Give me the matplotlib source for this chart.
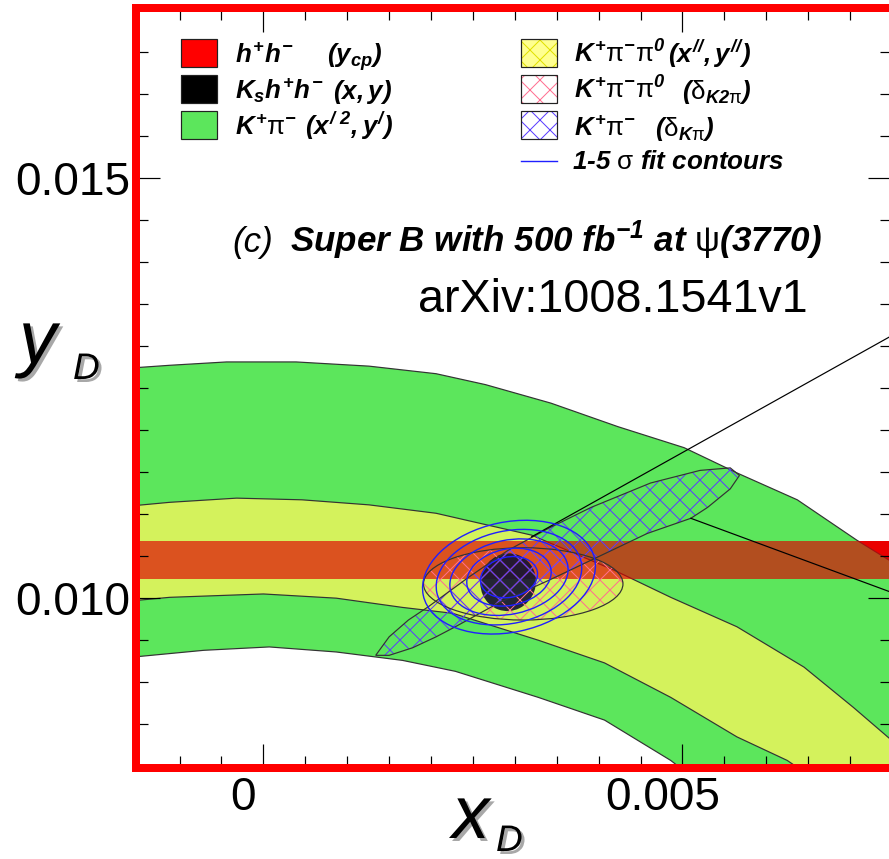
import numpy as np
import matplotlib
matplotlib.use('Agg')
import matplotlib.pyplot as plt
from matplotlib.patches import Polygon, Ellipse, Rectangle
from matplotlib.lines import Line2D
from matplotlib.transforms import ScaledTranslation
import matplotlib.patheffects as pe

DPI = 60
W, H = 889, 859


def pt(px):
    # pixel size -> points at this dpi
    return px * 72.0 / DPI


def fx(px):
    return px / W


def fy(py):
    return 1 - py / H


plt.rcParams['font.family'] = ['Liberation Sans', 'DejaVu Sans']
plt.rcParams['mathtext.fontset'] = 'custom'
plt.rcParams['mathtext.it'] = 'Liberation Sans:italic:bold'
plt.rcParams['mathtext.rm'] = 'Liberation Sans:italic:bold'
plt.rcParams['mathtext.bf'] = 'Liberation Sans:italic:bold'
plt.rcParams['mathtext.sf'] = 'Liberation Sans'
plt.rcParams['mathtext.cal'] = 'Liberation Sans:italic'
plt.rcParams['hatch.linewidth'] = pt(1.0)

##### data (x_D, y_D) #####
# h+h- (y_cp) band
ycp = 0.01045
ycp_err = 0.000225

# K+pi- (x'^2, y') band
green_up_x = [-0.00155, -0.00112, -0.00044, 0.00039, 0.00126, 0.00206, 0.00265, 0.00343,
              0.00423, 0.00502, 0.00565, 0.00637, 0.00708, 0.00760]
green_up_y = [0.01274, 0.01277, 0.01281, 0.01281, 0.01276, 0.01267, 0.01254, 0.01232,
              0.01204, 0.01179, 0.01149, 0.01117, 0.01069, 0.01037]
green_lo_x = [-0.00155, -0.00071, 0.00007, 0.00087, 0.00166, 0.00229, 0.00328, 0.00407,
              0.00486, 0.00508]
green_lo_y = [0.00930, 0.00938, 0.00942, 0.00936, 0.00926, 0.00913, 0.00882, 0.00855,
              0.00807, 0.00790]

# K+pi-pi0 (x'', y'') band
yellow_up_x = [-0.00155, -0.00112, -0.00032, 0.00046, 0.00126, 0.00206, 0.00241, 0.00320,
               0.00419, 0.00486, 0.00565, 0.00645, 0.00704, 0.00760]
yellow_up_y = [0.01110, 0.01114, 0.01119, 0.01117, 0.01111, 0.01101, 0.01093, 0.01075,
               0.01033, 0.01001, 0.00966, 0.00918, 0.00870, 0.00822]
yellow_lo_x = [-0.00155, -0.00112, 0.0, 0.00087, 0.00166, 0.00226, 0.00328, 0.00407,
               0.00486, 0.00565, 0.00625, 0.00650]
yellow_lo_y = [0.00997, 0.01001, 0.01005, 0.01000, 0.00989, 0.00982, 0.00950, 0.00923,
               0.00882, 0.00835, 0.00807, 0.00790]
corner_x, corner_y = 0.00760, 0.00790

# K+pi- (delta_Kpi) region
dkpi_x = [0.00134, 0.00150, 0.00173, 0.00197, 0.00245, 0.00292, 0.00340, 0.00391, 0.00462,
          0.00521, 0.00557, 0.00568, 0.00557, 0.00530, 0.00510, 0.00458, 0.00399, 0.00340,
          0.00280, 0.00229, 0.00206, 0.00178, 0.00150]
dkpi_y = [0.00932, 0.00954, 0.00974, 0.00990, 0.01025, 0.01057, 0.01083, 0.01108, 0.01137,
          0.01152, 0.01155, 0.01146, 0.01130, 0.01108, 0.01095, 0.01077, 0.01049, 0.01021,
          0.00994, 0.00966, 0.00954, 0.00941, 0.00932]
line_a_x = [0.00320, 0.00760]
line_a_y = [0.01073, 0.01318]
line_b_x = [0.00510, 0.00760]
line_b_y = [0.01095, 0.01003]

# K+pi-pi0 (delta_K2pi) region
dk2pi_c = (0.00310, 0.01017)
dk2pi_w, dk2pi_h = 0.00238, 0.00086

# Ks h+h- (x, y)
kshh_c = (0.00292, 0.01019)
kshh_w, kshh_h = 0.00066, 0.00069

# 1-5 sigma fit contours
fit_c = (0.00293, 0.01025)
fit_w = [0.00069, 0.00102, 0.00143, 0.00176, 0.00209]
fit_h = [0.00048, 0.00067, 0.00088, 0.00110, 0.00131]
fit_angle = 12

xticks = [0.0, 0.005]
xticklabels = ['0', '0.005']
yticks = [0.010, 0.015]
yticklabels = ['0.010', '0.015']

GREEN = '#5ce65c'
YELLOW = '#d4f25c'
PINK = '#ff6f90'
BLUE = '#5a3cff'
EDGE = '#333333'

fig = plt.figure(figsize=(W / DPI, H / DPI), dpi=DPI)
ax = fig.add_axes([135.5 / W, (H - 768) / H, (892 - 135.5) / W, (768 - 8) / H])
ax.set_xlim(-0.001526, 0.007458)
ax.set_ylim(0.00798, 0.01702)

# bands
ax.axhspan(ycp - ycp_err, ycp + ycp_err, color='red', lw=0, zorder=1.0)
gpoly = list(zip(green_up_x, green_up_y)) + [(corner_x, corner_y)] + \
    list(zip(green_lo_x[::-1], green_lo_y[::-1]))
ax.add_patch(Polygon(gpoly, closed=True, fc=GREEN, ec='none', zorder=1.1))
ypoly = list(zip(yellow_up_x, yellow_up_y)) + [(corner_x, corner_y)] + \
    list(zip(yellow_lo_x[::-1], yellow_lo_y[::-1]))
ax.add_patch(Polygon(ypoly, closed=True, fc=YELLOW, ec='none', zorder=1.2))
for bx, by in [(green_up_x, green_up_y), (green_lo_x, green_lo_y),
               (yellow_up_x, yellow_up_y), (yellow_lo_x, yellow_lo_y)]:
    ax.plot(bx, by, color=EDGE, lw=pt(1.2), zorder=1.25)
ax.axhspan(ycp - ycp_err, ycp + ycp_err, color='#e00000', alpha=0.66, lw=0, zorder=1.3)

# Ks h+h- blob
ax.add_patch(Ellipse(kshh_c, kshh_w, kshh_h, angle=-20, fc='#141432', ec='none',
                     alpha=0.92, zorder=1.35))

# delta_K2pi
ax.add_patch(Ellipse(dk2pi_c, dk2pi_w, dk2pi_h, fill=False, hatch='x', ec=PINK, lw=0,
                     zorder=1.4))
ax.add_patch(Ellipse(dk2pi_c, dk2pi_w, dk2pi_h, fill=False, ec=EDGE, lw=pt(1.2),
                     zorder=1.5))

# delta_Kpi
dkpi = list(zip(dkpi_x, dkpi_y))
ax.add_patch(Polygon(dkpi, closed=True, fill=False, hatch='x', ec=BLUE, lw=0, zorder=1.45))
ax.add_patch(Polygon(dkpi, closed=True, fill=False, ec=EDGE, lw=pt(1.2), zorder=1.5))
ax.plot(line_a_x, line_a_y, color='black', lw=pt(1.2), zorder=1.5)
ax.plot(line_b_x, line_b_y, color='black', lw=pt(1.2), zorder=1.5)

# fit contours
for w, h in zip(fit_w, fit_h):
    ax.add_patch(Ellipse(fit_c, w, h, angle=fit_angle, fill=False, ec='#1f1fff',
                         lw=pt(1.4), zorder=1.6))

# axes styling
ax.set_axisbelow(False)
ax.set_xticks(xticks)
ax.set_xticklabels(xticklabels)
ax.set_xticks(np.arange(-0.0015, 0.00751, 0.0005), minor=True)
ax.set_yticks(yticks)
ax.set_yticklabels(yticklabels)
ax.set_yticks(np.arange(0.008, 0.01701, 0.0005), minor=True)
ax.tick_params(which='both', direction='in', top=True, right=True, color='black',
               width=pt(1.2))
ax.tick_params(which='major', length=pt(24))
ax.tick_params(which='minor', length=pt(12))
ax.tick_params(axis='x', labelsize=pt(46), pad=pt(8))
ax.tick_params(axis='y', labelsize=pt(46), pad=pt(5))
for s in ax.spines.values():
    s.set_color('red')
    s.set_linewidth(pt(8))
    s.set_zorder(3)
off = ScaledTranslation(-20.0 / DPI, 0, fig.dpi_scale_trans)
for lab in ax.get_xticklabels():
    lab.set_transform(lab.get_transform() + off)

# axis titles with shadow
shadow = [pe.withSimplePatchShadow(offset=(pt(3), -pt(3)), shadow_rgbFace='#a8a8a8', alpha=1)]
fig.text(fx(19), fy(363), 'y', fontsize=pt(75), style='italic', va='baseline',
         path_effects=shadow)
fig.text(fx(73), fy(379), 'D', fontsize=pt(37), style='italic', va='baseline',
         path_effects=shadow)
fig.text(fx(452), fy(838), 'x', fontsize=pt(75), style='italic', va='baseline',
         path_effects=shadow)
fig.text(fx(496), fy(851), 'D', fontsize=pt(37), style='italic', va='baseline',
         path_effects=shadow)

# annotations
fig.text(fx(232), fy(252), '(c)', fontsize=pt(35), style='italic', va='baseline')
fig.text(fx(822), fy(252), r'Super B with 500 fb$^{-1}$ at $\mathsf{\psi}$(3770)',
         fontsize=pt(35), style='italic', fontweight='bold', ha='right', va='baseline')
fig.text(fx(808), fy(312), 'arXiv:1008.1541v1', fontsize=pt(46.8), ha='right',
         va='baseline')


# legend (drawn by hand, ROOT style)
def box(x0, y0, fc, hatch=None, hc=None):
    r = Rectangle((fx(x0), fy(y0 + 28)), 36 / W, 28 / H, transform=fig.transFigure,
                  fc=fc, ec='none', lw=0)
    fig.add_artist(r)
    if hatch:
        fig.add_artist(Rectangle((fx(x0), fy(y0 + 28)), 36 / W, 28 / H,
                                 transform=fig.transFigure, fill=False, hatch=hatch,
                                 ec=hc, lw=0))
    fig.add_artist(Rectangle((fx(x0), fy(y0 + 28)), 36 / W, 28 / H,
                             transform=fig.transFigure, fill=False, ec='#222222',
                             lw=pt(1.2)))


LFS = pt(26)
box(181, 39, 'red')
box(181, 75, 'black')
box(181, 111, GREEN)
box(521, 39, '#ffff90', 'x', '#e0e000')
box(521, 75, 'white', 'x', PINK)
box(521, 111, 'white', 'x', BLUE)
fig.add_artist(Line2D([fx(521), fx(557)], [fy(161), fy(161)], color='#1f1fff',
                      lw=pt(1.4), transform=fig.transFigure))

legend_text = [
    (235, 63, r'$h^{+}h^{-}$'), (327, 63, r'$(y_{cp})$'),
    (235, 99, r'$K_{s}h^{+}h^{-}$'), (333, 99, r'$(x,y)$'),
    (235, 135, r'$K^{+}\mathsf{\pi}^{-}$'), (305, 135, r'$(x^{/\ 2},y^{/})$'),
    (574, 63, r'$K^{+}\mathsf{\pi}^{-}\mathsf{\pi}^{0}$'), (668, 63, r'$(x^{//},y^{//})$'),
    (574, 99, r'$K^{+}\mathsf{\pi}^{-}\mathsf{\pi}^{0}$'),
    (682, 99, r'$(\mathsf{\delta}_{K2\mathsf{\pi}})$'),
    (574, 136, r'$K^{+}\mathsf{\pi}^{-}$'), (655, 136, r'$(\mathsf{\delta}_{K\mathsf{\pi}})$'),
]
for x0, y0, s in legend_text:
    fig.text(fx(x0), fy(y0), s, fontsize=LFS, va='baseline')
fig.text(fx(572), fy(169), r'1-5 $\mathsf{\sigma}$ fit contours', fontsize=LFS,
         style='italic', fontweight='bold', va='baseline')

fig.savefig('out.png', dpi=DPI)
